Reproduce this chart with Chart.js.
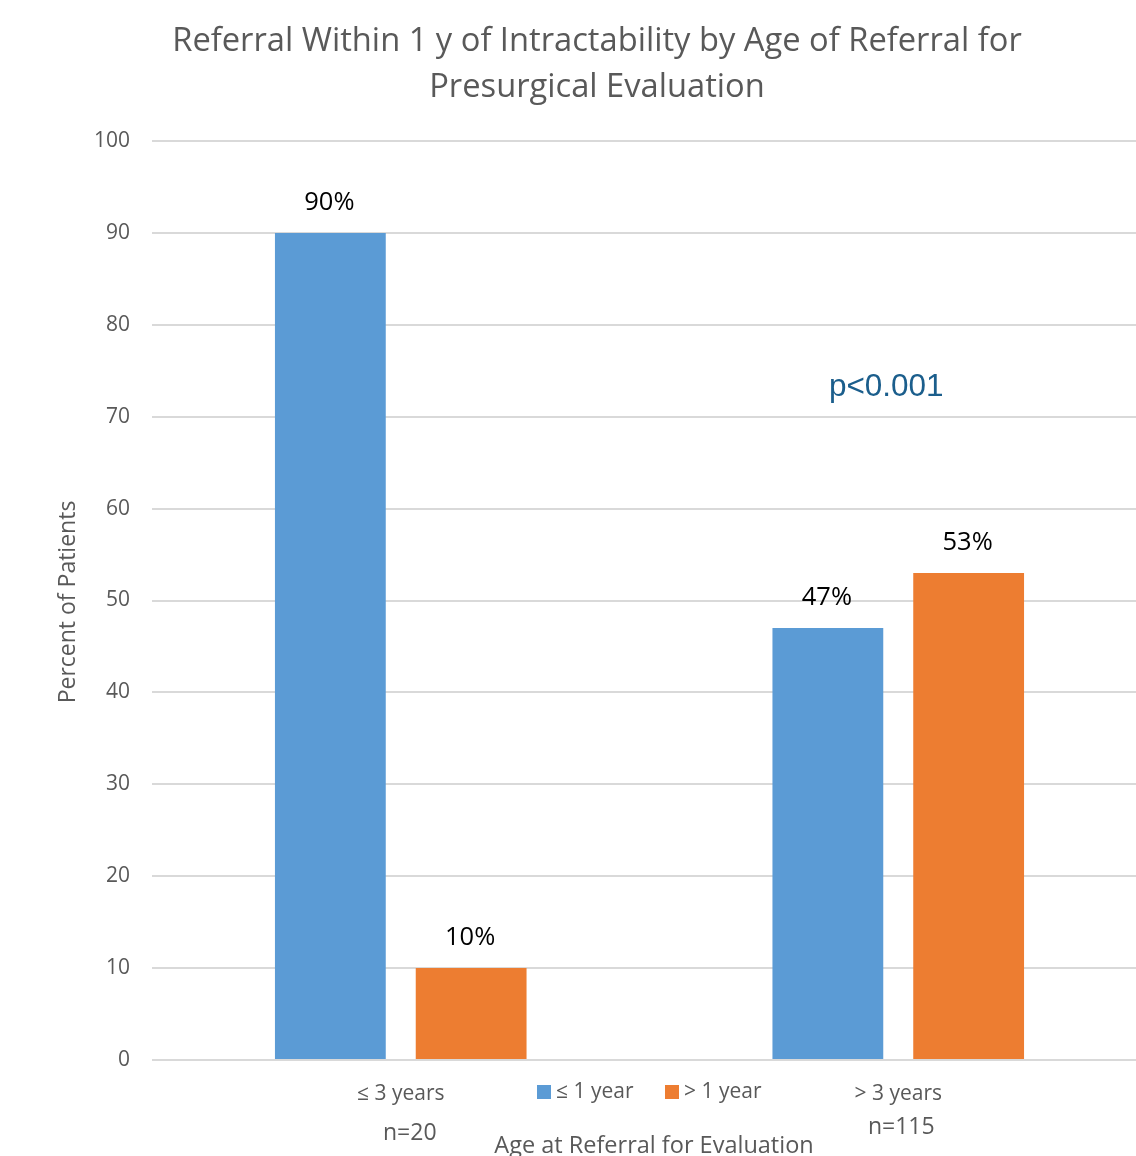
<!DOCTYPE html>
<html>
<head>
<meta charset="utf-8">
<script src="https://cdn.jsdelivr.net/npm/chart.js@4.4.1/dist/chart.umd.min.js"></script>
<style>
  html, body { margin: 0; padding: 0; background: #fff; overflow: hidden; }
  #wrap { width: 1147px; height: 1156px; }
</style>
</head>
<body>
<div id="wrap"><canvas id="chart"></canvas></div>
<script>
// chart data
var categories = ['≤ 3 years', '> 3 years'];
var sampleSizes = ['n=20', 'n=115'];
var seriesNames = ['≤ 1 year', '> 1 year'];
var withinOneYear = [90, 47];
var overOneYear = [10, 53];
var yTicks = [0, 10, 20, 30, 40, 50, 60, 70, 80, 90, 100];
var titleLines = ['Referral Within 1 y of Intractability by Age of Referral for', 'Presurgical Evaluation'];
var pValueText = 'p<0.001';

var BLUE = '#5B9BD5';
var ORANGE = '#ED7D31';
var GREY = '#595959';
var FONT = '"Open Sans", sans-serif';

// everything Chart.js doesn't place where Excel put it
var extras = {
  id: 'extras',
  afterDraw: function(chart) {
    var ctx = chart.ctx;
    var x = chart.scales.x, y = chart.scales.y;
    ctx.save();

    // title
    ctx.fillStyle = GREY;
    ctx.font = '32.7px ' + FONT;
    ctx.textAlign = 'center';
    ctx.textBaseline = 'middle';
    ctx.fillText(titleLines[0], 597, 42);
    ctx.fillText(titleLines[1], 597, 88);

    // y axis title
    ctx.save();
    ctx.translate(68, 602);
    ctx.rotate(-Math.PI / 2);
    ctx.font = '23px ' + FONT;
    ctx.fillText('Percent of Patients', 0, 0);
    ctx.restore();

    // value labels above bars
    ctx.fillStyle = '#000';
    ctx.font = '25.5px ' + FONT;
    chart.data.datasets.forEach(function(ds, i) {
      chart.getDatasetMeta(i).data.forEach(function(bar, j) {
        ctx.fillText(ds.data[j] + '%', bar.x - 1, bar.y - 30);
      });
    });

    // sample sizes under the categories
    ctx.fillStyle = GREY;
    ctx.font = '23px ' + FONT;
    ctx.fillText(sampleSizes[0], x.getPixelForValue(0) + 9, 1133);
    ctx.fillText(sampleSizes[1], x.getPixelForValue(1) + 3, 1127);

    // legend in the middle of the tick row
    var lx = [537, 665];
    var cols = [BLUE, ORANGE];
    ctx.textAlign = 'left';
    ctx.font = '21px ' + FONT;
    for (var k = 0; k < 2; k++) {
      ctx.fillStyle = cols[k];
      ctx.fillRect(lx[k], 1085, 14, 14);
      ctx.fillStyle = GREY;
      ctx.fillText(seriesNames[k], lx[k] + 19, 1092);
    }

    // x axis title (cut off at the bottom edge)
    ctx.textAlign = 'center';
    ctx.font = '23.5px ' + FONT;
    ctx.fillText('Age at Referral for Evaluation', 654, 1146);

    // p value
    ctx.fillStyle = '#1B5E8C';
    ctx.font = '31.5px "Liberation Sans", Arial, sans-serif';
    ctx.fillText(pValueText, x.getPixelForValue(1) - 12, y.getPixelForValue(73.2));

    ctx.restore();
  }
};

var config = {
  type: 'bar',
  data: {
    labels: categories,
    datasets: [{
      label: seriesNames[0],
      data: withinOneYear,
      backgroundColor: BLUE
    }, {
      label: seriesNames[1],
      data: overOneYear,
      backgroundColor: ORANGE
    }]
  },
  options: {
    responsive: true,
    maintainAspectRatio: false,
    animation: false,
    layout: { padding: { top: 141, left: 0, right: 0, bottom: 0 } },
    plugins: {
      legend: { display: false },
      title: { display: false },
      tooltip: { enabled: false }
    },
    datasets: {
      bar: { categoryPercentage: 0.566, barPercentage: 0.787 }
    },
    scales: {
      x: {
        afterFit: function(scale) { scale.height = 96; },
        grid: { display: false },
        border: { display: false },
        ticks: { color: GREY, font: { family: FONT, size: 21 }, padding: 13 }
      },
      y: {
        min: 0,
        max: 100,
        afterFit: function(scale) { scale.width = 152; },
        afterBuildTicks: function(scale) {
          scale.ticks = yTicks.map(function(v) { return { value: v }; });
        },
        grid: { color: '#D9D9D9', lineWidth: 2, drawTicks: false },
        border: { display: false },
        ticks: { color: GREY, font: { family: FONT, size: 21 }, padding: 22 }
      }
    }
  },
  plugins: [extras]
};

window.onload = function() {
  var ctx = document.getElementById('chart');
  window.myBar = new Chart(ctx, config);
};
</script>
</body>
</html>
